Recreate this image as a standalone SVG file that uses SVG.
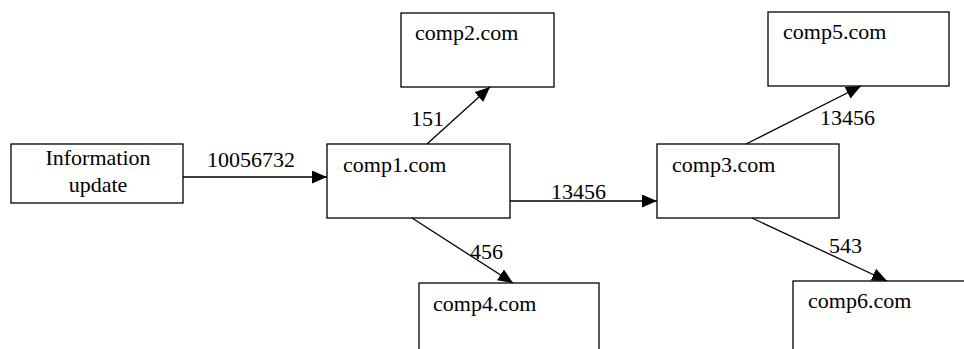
<svg xmlns="http://www.w3.org/2000/svg" width="964" height="349" viewBox="0 0 964 349">
<style>
.box{fill:#fff;stroke:#000;stroke-width:1.3}
.t{font-family:"Liberation Serif","Times New Roman",serif;font-size:22px;fill:#000}
.c{stroke:#000;stroke-width:1.3;fill:none}
</style>
<defs>
<marker id="ah" markerUnits="userSpaceOnUse" markerWidth="16" markerHeight="14" refX="15" refY="6.5" orient="auto">
<path d="M0,0 L15,6.5 L0,13 Z" fill="#000"/>
</marker>
</defs>
<rect width="964" height="349" fill="#fff"/>
<g id="info">
<rect class="box" x="11" y="144" width="172" height="59"/>
<text class="t" x="98" y="165" text-anchor="middle">Information</text>
<text class="t" x="98" y="192" text-anchor="middle">update</text>
</g>
<g id="comp1">
<rect class="box" x="327" y="144" width="183" height="74"/>
<text class="t" x="343" y="172">comp1.com</text>
</g>
<g id="comp2">
<rect class="box" x="401" y="13" width="153" height="74"/>
<text class="t" x="415" y="40">comp2.com</text>
</g>
<g id="comp3">
<rect class="box" x="657" y="144" width="182" height="74"/>
<text class="t" x="672" y="172">comp3.com</text>
</g>
<g id="comp4">
<rect class="box" x="419" y="283" width="180" height="90"/>
<text class="t" x="433" y="311">comp4.com</text>
</g>
<g id="comp5">
<rect class="box" x="768" y="12" width="181" height="74"/>
<text class="t" x="783" y="39">comp5.com</text>
</g>
<g id="comp6">
<rect class="box" x="793" y="281" width="190" height="90"/>
<text class="t" x="808" y="308">comp6.com</text>
</g>
<g id="connectors">
<line class="c" x1="183" y1="177" x2="327" y2="177" marker-end="url(#ah)"/>
<text class="t" x="207" y="167">10056732</text>
<line class="c" x1="427" y1="144" x2="490" y2="87" marker-end="url(#ah)"/>
<text class="t" x="411" y="126">151</text>
<line class="c" x1="510" y1="201" x2="657" y2="201" marker-end="url(#ah)"/>
<text class="t" x="551" y="199">13456</text>
<line class="c" x1="412" y1="218" x2="513" y2="283" marker-end="url(#ah)"/>
<text class="t" x="470" y="259">456</text>
<line class="c" x1="746" y1="144" x2="861" y2="86" marker-end="url(#ah)"/>
<text class="t" x="820" y="125">13456</text>
<line class="c" x1="752" y1="218" x2="887" y2="281" marker-end="url(#ah)"/>
<text class="t" x="829" y="253">543</text>
</g>
</svg>
